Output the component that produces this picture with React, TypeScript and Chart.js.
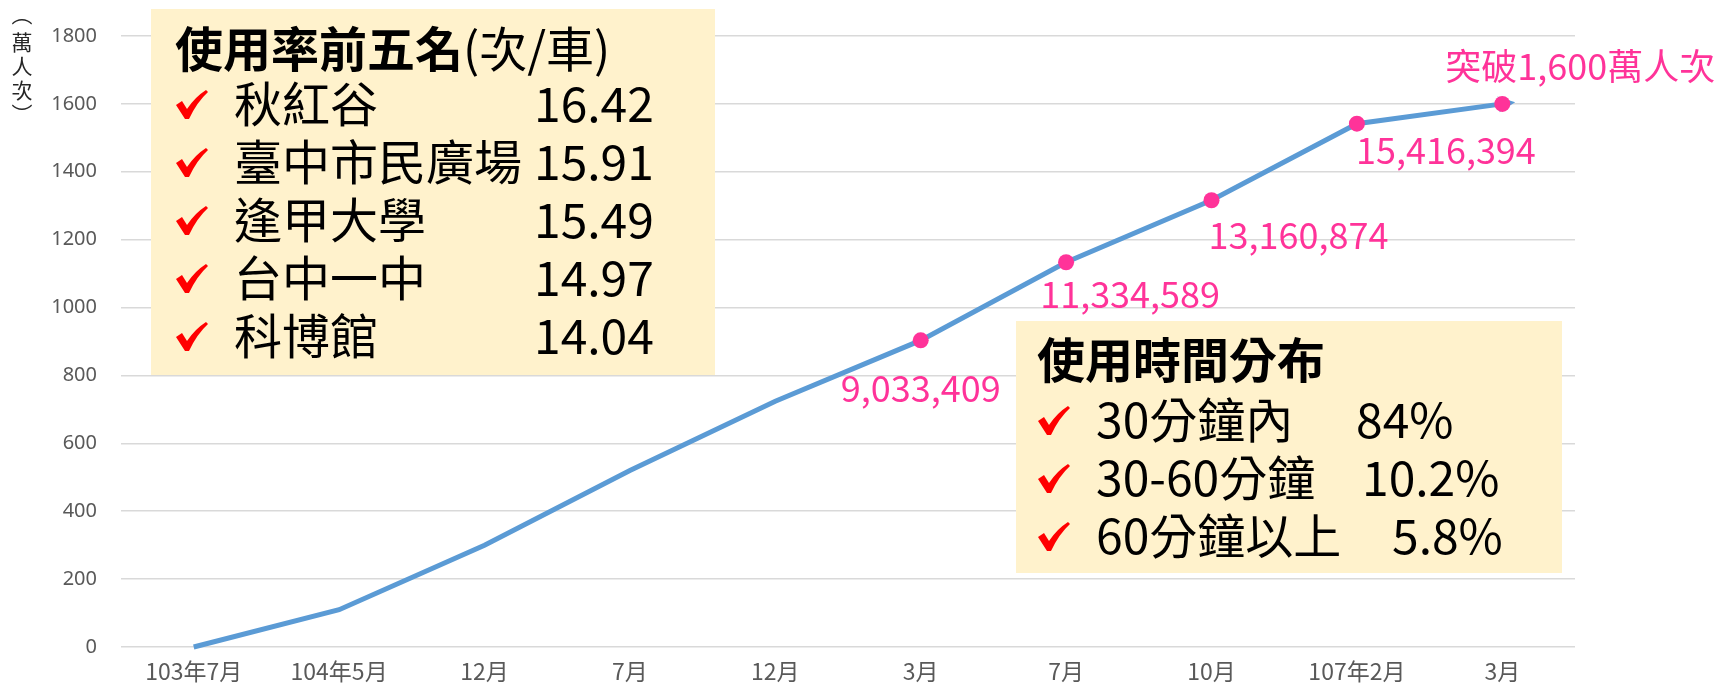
import { useEffect, useRef } from "react";
import { Chart, registerables } from "chart.js";

Chart.register(...registerables);

// ---------- data ----------
const categories = ["103年7月", "104年5月", "12月", "7月", "12月", "3月", "7月", "10月", "107年2月", "3月"];
const riders = [0, 110, 300, 520, 724, 903.3409, 1133.4589, 1316.0874, 1541.6394, 1600];
const markerShown = [false, false, false, false, false, true, true, true, true, true];
const pointLabels = ["", "", "", "", "", "9,033,409", "11,334,589", "13,160,874", "15,416,394", "突破1,600萬人次"];
const yMin = 0;
const yMax = 1800;
const yStep = 200;
const yAxisTitle = ["︵", "萬", "人", "次", "︶"];

const topTitle = "使用率前五名";
const topUnit = "(次/車)";
const topNames = ["秋紅谷", "臺中市民廣場", "逢甲大學", "台中一中", "科博館"];
const topValues = ["16.42", "15.91", "15.49", "14.97", "14.04"];

const timeTitle = "使用時間分布";
const timeNames = ["30分鐘內", "30-60分鐘", "60分鐘以上"];
const timeValues = ["84%", "10.2%", "5.8%"];

// ---------- styles ----------
const CJK = '"Noto Sans CJK TC", "Noto Sans", sans-serif';
const LINE_COLOR = "#5B9BD5";
const PINK = "#FF3399";
const BOX_BG = "#FFF2CC";
// label offsets relative to the point (center x, center y), px
const labelDX = [0, 0, 0, 0, 0, 0, 64, 87, 89, 78];
const labelDY = [0, 0, 0, 0, 0, 48, 32, 35, 27, -38];

const box1 = { x: 151, y: 9, w: 564, h: 366, titleY: 49, rowY0: 104, rowStep: 58, titleX: 175, checkX: 176, nameX: 234, valueX: [534, 534, 534, 534, 534] };
const box2 = { x: 1016, y: 321, w: 546, h: 252, titleY: 360, rowY0: 420, rowStep: 58, titleX: 1037, checkX: 1038, nameX: 1096, valueX: [1356, 1362, 1392] };
const BOX_FONT = 48;

function drawCheck(ctx: CanvasRenderingContext2D, x: number, cy: number) {
  const y = cy - 14;
  ctx.save();
  ctx.fillStyle = "#FF0000";
  ctx.beginPath();
  ctx.moveTo(x + 0, y + 15);
  ctx.lineTo(x + 6, y + 11);
  ctx.lineTo(x + 11, y + 19);
  ctx.quadraticCurveTo(x + 19, y + 7, x + 30, y + 0);
  ctx.lineTo(x + 32, y + 2);
  ctx.quadraticCurveTo(x + 21, y + 12, x + 13, y + 29);
  ctx.lineTo(x + 9, y + 29);
  ctx.closePath();
  ctx.fill();
  ctx.restore();
}

function drawBox(ctx: CanvasRenderingContext2D, b: any, title: string, unit: string, names: string[], values: string[]) {
  ctx.save();
  ctx.fillStyle = BOX_BG;
  ctx.fillRect(b.x, b.y, b.w, b.h);
  ctx.textBaseline = "middle";
  ctx.textAlign = "left";
  ctx.fillStyle = "#000";
  ctx.font = `bold ${BOX_FONT}px ${CJK}`;
  ctx.fillText(title, b.titleX, b.titleY);
  if (unit) {
    const w = ctx.measureText(title).width;
    ctx.font = `${BOX_FONT}px ${CJK}`;
    ctx.fillText(unit, b.titleX + w, b.titleY);
  }
  names.forEach((n, i) => {
    const y = b.rowY0 + i * b.rowStep;
    drawCheck(ctx, b.checkX, y);
    ctx.fillStyle = "#000";
    ctx.font = `${BOX_FONT}px ${CJK}`;
    ctx.fillText(n, b.nameX, y);
    ctx.fillText(values[i], b.valueX[i], y);
  });
  ctx.restore();
}

const overlayPlugin = {
  id: "overlay",
  beforeDatasetsDraw(chart: any) {
    const ctx = chart.ctx as CanvasRenderingContext2D;
    drawBox(ctx, box1, topTitle, topUnit, topNames, topValues);
    drawBox(ctx, box2, timeTitle, "", timeNames, timeValues);
    // y-axis title (vertical)
    ctx.save();
    ctx.fillStyle = "#262626";
    ctx.font = `21px ${CJK}`;
    ctx.textAlign = "center";
    ctx.textBaseline = "middle";
    const ys = [14, 42, 66, 90, 114];
    yAxisTitle.forEach((c, i) => ctx.fillText(c, 22, ys[i]));
    ctx.restore();
  },
  afterDatasetsDraw(chart: any) {
    const ctx = chart.ctx as CanvasRenderingContext2D;
    const meta = chart.getDatasetMeta(0);
    const pts = meta.data;
    // arrow head at the end of the line
    const a = pts[pts.length - 2];
    const b = pts[pts.length - 1];
    const dx = b.x - a.x;
    const dy = b.y - a.y;
    const len = Math.hypot(dx, dy);
    const ux = dx / len;
    const uy = dy / len;
    const tipX = b.x + ux * 13;
    const tipY = b.y + uy * 13;
    ctx.save();
    ctx.fillStyle = LINE_COLOR;
    ctx.beginPath();
    ctx.moveTo(tipX, tipY);
    ctx.lineTo(b.x - ux * 4 - uy * 8, b.y - uy * 4 + ux * 8);
    ctx.lineTo(b.x, b.y);
    ctx.lineTo(b.x - ux * 4 + uy * 8, b.y - uy * 4 - ux * 8);
    ctx.closePath();
    ctx.fill();
    // markers on top
    pts.forEach((p: any, i: number) => {
      if (!markerShown[i]) return;
      ctx.fillStyle = PINK;
      ctx.beginPath();
      ctx.arc(p.x, p.y, 8, 0, Math.PI * 2);
      ctx.fill();
    });
    // labels
    ctx.fillStyle = PINK;
    ctx.font = `36px ${CJK}`;
    ctx.textAlign = "center";
    ctx.textBaseline = "middle";
    pts.forEach((p: any, i: number) => {
      if (!pointLabels[i]) return;
      ctx.fillText(pointLabels[i], p.x + labelDX[i], p.y + labelDY[i]);
    });
    ctx.restore();
  },
};

export default function App() {
  const ref = useRef<HTMLCanvasElement>(null);
  useEffect(() => {
    document.body.style.margin = "0";
    const canvas = ref.current!;
    const chart = new Chart(canvas, {
      type: "line",
      data: {
        labels: categories,
        datasets: [
          {
            data: riders,
            borderColor: LINE_COLOR,
            borderWidth: 5,
            tension: 0,
            fill: false,
            pointRadius: 0,
            pointHoverRadius: 0,
            clip: false as any,
          },
        ],
      },
      options: {
        responsive: false,
        animation: false,
        devicePixelRatio: 1,
        layout: { padding: { left: 0, right: 144, top: 36, bottom: 0 } },
        plugins: { legend: { display: false }, tooltip: { enabled: false }, title: { display: false } },
        events: [],
        scales: {
          x: {
            type: "category",
            offset: true,
            grid: { display: false, drawTicks: false },
            border: { display: false },
            ticks: {
              color: "#595959",
              font: { family: CJK, size: 23 },
              padding: 10,
              maxRotation: 0,
              autoSkip: false,
            },
            afterFit: (s: any) => {
              s.height = 44;
            },
          },
          y: {
            min: yMin,
            max: yMax,
            grid: { color: "#D9D9D9", lineWidth: 1.5, drawTicks: false },
            border: { display: false },
            ticks: {
              stepSize: yStep,
              color: "#595959",
              font: { family: '"Noto Sans", sans-serif', size: 20 },
              padding: 24,
              callback: (v: any) => String(v),
            },
            afterFit: (s: any) => {
              s.width = 121;
            },
          },
        },
      },
      plugins: [overlayPlugin],
    });
    return () => chart.destroy();
  }, []);
  return (
    <canvas
      ref={ref}
      width={1719}
      height={691}
      style={{ display: "block", width: "1719px", height: "691px" }}
    />
  );
}
